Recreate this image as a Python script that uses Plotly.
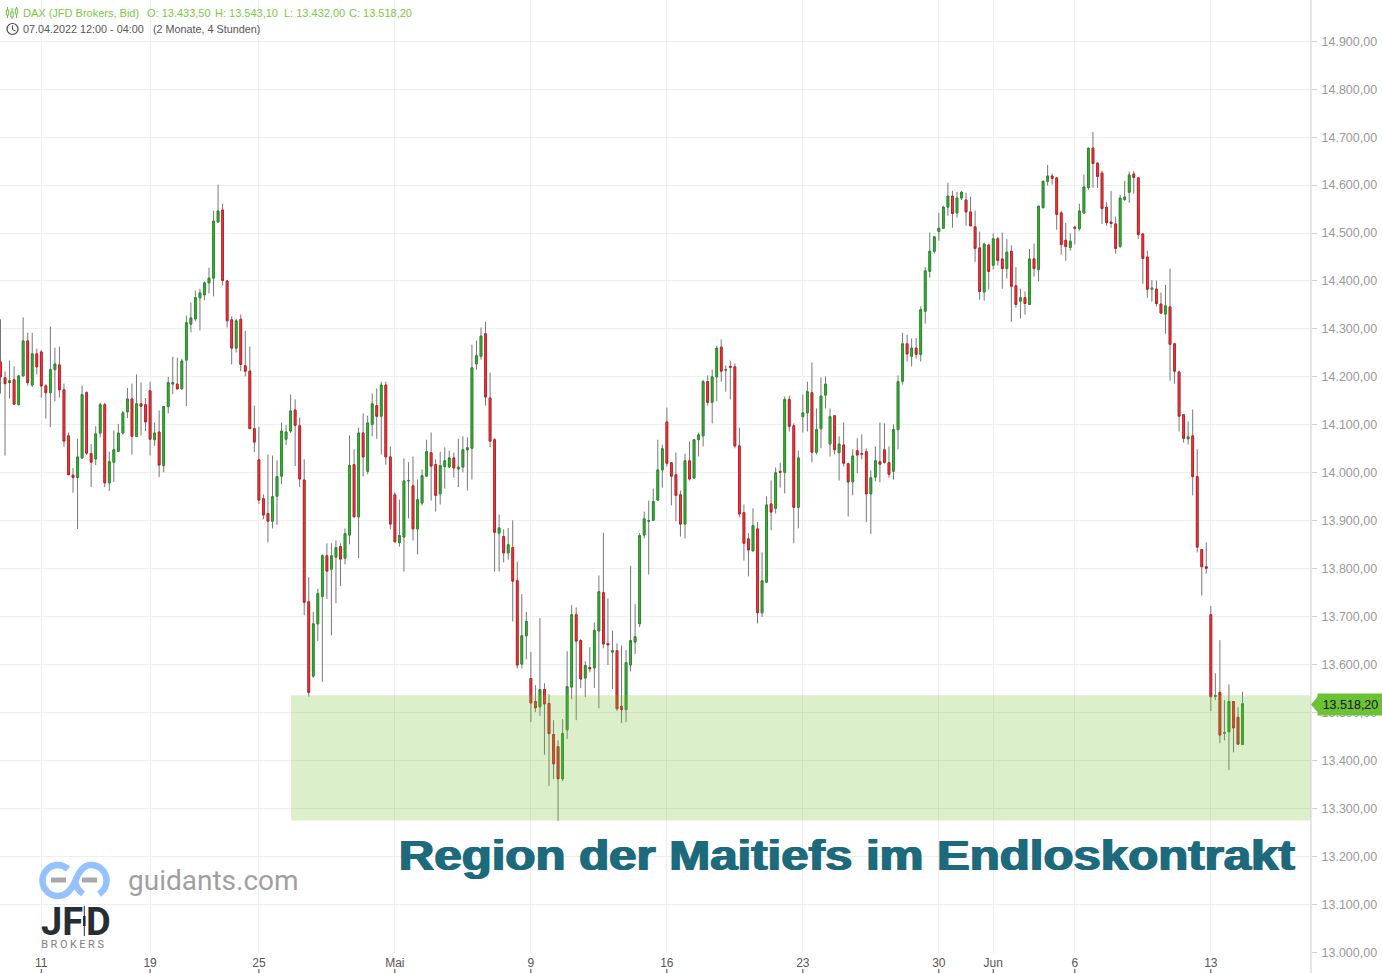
import plotly.graph_objects as go

opens = [14231,14198,14188,14194,14142,14202,14275,14183,14248,14252,
14181,14167,14215,14225,14173,14077,13995,13990,14031,14167,
14040,14029,14083,14142,13979,14022,14045,14083,14127,14154,
14076,14144,14142,14171,14069,14085,14015,14138,14185,14185,
14175,14235,14310,14321,14365,14371,14396,14406,14523,14548,
14400,14319,14260,14320,14223,14212,14092,14027,13946,13915,
13899,13951,13993,14070,14087,14131,14098,13985,13731,13576,
13685,13742,13827,13799,13824,13846,13822,13870,14017,13908,
14083,14003,14101,14140,14118,14183,14033,13954,13854,13866,
13983,13973,13883,13937,13993,14042,14017,13956,14013,14012,
14031,14008,14012,14048,14051,14227,14243,14290,14156,14069,
13874,13867,13833,13844,13775,13601,13660,13571,13523,13512,
13548,13519,13454,13429,13362,13464,13553,13704,13650,13572,
13594,13593,13670,13750,13644,13626,13629,13513,13506,13599,
13647,13685,13870,13899,13901,13943,14006,14106,14021,13996,
13954,13893,14025,13989,14069,14077,14190,14147,14200,14262,
14214,14222,14221,14056,13917,13862,13837,13883,13708,13772,
13935,13926,14003,14001,14153,14098,13928,14117,14125,14167,
14043,14092,14162,14060,14119,14042,14058,14019,13981,14046,
14040,14044,13956,13991,14023,14048,14021,14003,14090,14191,
14269,14243,14260,14247,14337,14420,14462,14503,14510,14554,
14577,14542,14573,14569,14544,14513,14469,14377,14475,14433,
14488,14446,14426,14462,14390,14358,14365,14351,14446,14424,
14553,14608,14619,14615,14542,14485,14470,14512,14509,14542,
14595,14677,14646,14625,14554,14523,14519,14472,14570,14585,
14623,14615,14498,14450,14383,14383,14352,14331,14346,14269,
14210,14121,14071,14077,13992,13840,13804,13704,13534,13542,
13457,13460,13523,13490,13433.5]
highs = [14320,14211,14234,14222,14204,14324,14292,14292,14259,14256,
14185,14305,14261,14263,14186,14084,14010,14071,14182,14170,
14060,14097,14146,14146,14044,14088,14102,14129,14177,14186,
14205,14188,14156,14190,14105,14130,14138,14200,14242,14240,
14238,14328,14355,14380,14384,14399,14428,14547,14601,14561,
14402,14326,14321,14330,14296,14263,14140,14096,13955,14038,
14036,14026,14105,14099,14163,14153,14115,14028,13782,13710,
13758,13830,13853,13853,13859,13853,13884,14078,14049,14094,
14124,14119,14165,14176,14190,14190,14055,13959,13944,14030,
14022,14034,13986,14007,14069,14084,14028,14044,14053,14046,
14042,14071,14076,14074,14267,14276,14303,14315,14209,14072,
13913,13882,13885,13901,13815,13747,13710,13626,13557,13697,
13561,13538,13484,13442,13486,13628,13724,13719,13653,13607,
13636,13688,13786,13875,13738,13671,13644,13640,13630,13806,
13726,13874,13919,13942,13967,14069,14059,14136,14021,14042,
13963,14040,14065,14069,14084,14194,14203,14215,14265,14278,
14224,14234,14228,14094,13934,13874,13926,13897,13834,13951,
13984,14011,14021,14159,14161,14103,14046,14163,14190,14230,
14134,14199,14201,14134,14119,14076,14105,14021,14049,14072,
14080,14051,14005,14055,14105,14103,14055,14101,14203,14292,
14288,14280,14281,14347,14429,14501,14494,14542,14557,14605,
14588,14586,14588,14584,14576,14547,14503,14480,14478,14499,
14492,14501,14488,14474,14429,14384,14378,14467,14478,14556,
14608,14642,14624,14617,14546,14521,14499,14515,14561,14622,
14677,14711,14646,14630,14565,14588,14534,14580,14609,14628,
14630,14617,14500,14463,14402,14401,14376,14392,14426,14271,
14213,14121,14107,14132,14049,13840,13855,13722,13582,13651,
13526,13559,13523,13511,13543.1]
lows = [14165,14036,14155,14142,14141,14201,14182,14179,14205,14157,
14113,14095,14149,14157,14054,13995,13958,13883,14029,14037,
13970,14016,14074,13970,13962,13981,14044,14080,14114,14038,
14076,14078,14087,14036,14056,13991,14001,14124,14164,14174,
14174,14139,14293,14316,14297,14360,14374,14368,14522,14391,
14303,14226,14251,14212,14201,14092,14043,13935,13903,13855,
13884,13891,13976,14058,14083,14014,13970,13703,13533,13572,
13649,13564,13737,13661,13728,13764,13809,13851,13908,13822,
13992,13997,14076,14071,14038,14017,13882,13855,13846,13794,
13905,13859,13830,13932,13993,13942,13919,13934,13967,14011,
13990,13970,14001,13963,13986,14215,14236,14140,14053,13794,
13794,13813,13819,13690,13592,13592,13611,13480,13501,13493,
13412,13347,13361,13274,13357,13445,13528,13484,13551,13532,
13584,13551,13509,13634,13599,13549,13503,13478,13480,13586,
13622,13678,13863,13788,13900,13942,13969,14013,13932,13899,
13867,13863,13984,13989,14034,14055,14140,14103,14149,14190,
14169,14153,14051,13907,13817,13784,13837,13686,13699,13770,
13880,13915,13969,13957,14086,13853,13884,14084,14086,14022,
14038,14051,14134,14034,14038,13984,14013,13909,13953,13999,
14028,13897,13872,13982,13980,14019,13990,13986,14049,14184,
14232,14222,14238,14232,14311,14407,14457,14484,14510,14536,
14511,14532,14569,14515,14515,14440,14361,14359,14382,14424,
14432,14384,14405,14315,14344,14322,14330,14351,14409,14399,
14551,14599,14601,14507,14455,14442,14463,14476,14505,14540,
14590,14594,14594,14519,14515,14511,14457,14469,14567,14563,
14582,14488,14394,14365,14357,14347,14333,14290,14192,14186,
14086,14063,14059,13953,13834,13744,13790,13503,13526,13436,
13442,13380,13417,13432,13432]
closes = [14200,14186,14192,14143,14202,14275,14188,14248,14221,14181,
14167,14215,14227,14173,14066,13996,13990,14033,14163,14041,
14022,14081,14142,13979,14023,14048,14083,14125,14154,14076,
14144,14139,14106,14070,14083,14016,14138,14188,14188,14175,
14233,14313,14323,14365,14375,14396,14406,14525,14546,14401,
14317,14260,14317,14226,14212,14092,14064,13943,13912,13899,
13950,13992,14087,14085,14129,14099,13987,13730,13542,13685,
13748,13827,13795,13827,13844,13820,13873,14015,13908,14083,
14033,14104,14144,14118,14183,14033,13893,13856,13869,13983,
13984,13883,13944,13994,14044,14014,13953,14015,14025,14031,
14010,14012,14048,14052,14219,14244,14285,14158,14066,13876,
13885,13833,13850,13774,13599,13660,13690,13520,13510,13548,
13518,13456,13393,13362,13456,13554,13704,13649,13570,13598,
13591,13671,13752,13643,13641,13629,13508,13506,13604,13650,
13658,13869,13904,13900,13940,14006,14050,14020,13993,13953,
13893,14025,13987,14069,14079,14190,14147,14200,14260,14212,
14215,14220,14056,13914,13853,13839,13890,13708,13775,13933,
13918,14000,14001,14153,14097,13928,14031,14125,14169,14043,
14090,14160,14185,14117,14048,14060,14020,13981,14035,14037,
14039,13956,13990,14025,14018,14022,13997,14090,14190,14269,
14248,14260,14247,14340,14421,14462,14492,14510,14554,14577,
14541,14573,14585,14544,14515,14468,14378,14477,14420,14488,
14443,14426,14460,14389,14351,14365,14353,14446,14426,14556,
14608,14619,14614,14539,14476,14472,14483,14510,14546,14596,
14677,14645,14618,14551,14522,14520,14468,14573,14575,14621,
14616,14497,14447,14383,14385,14353,14333,14348,14268,14212,
14118,14072,14075,13992,13845,13804,13801,13533,13535,13453,
13458,13523,13468,13434,13518.2]

tick_index = [9,33,57,87,117,147,177,207,219,237,267]
tick_labels = ["11","19","25","Mai","9","16","23","30","Jun","6","13"]
price_ticks = list(range(13000,15000,100))
zone_low, zone_high = 13275, 13536
zone_start_index = 64.1
last_price_label = "13.518,20"

n = min(len(opens),len(highs),len(lows),len(closes))
idx = list(range(n))
opens,highs,lows,closes = opens[:n],highs[:n],lows[:n],closes[:n]
top = [max(a,b) for a,b in zip(opens,closes)]
bot = [min(a,b) for a,b in zip(opens,closes)]
highs = [max(h,t) for h,t in zip(highs,top)]
lows = [min(l,b) for l,b in zip(lows,bot)]

W,H = 1382,973
PW,PH = 1311,953
def px(x): return x/PW
def py(y): return (PH-y)/PH

fig = go.Figure()
wick = dict(line=dict(color="#777777",width=1),fillcolor="#777777")
fig.add_trace(go.Candlestick(x=idx,open=opens,high=highs,low=lows,close=closes,
    increasing=wick,decreasing=wick,hoverinfo="skip",showlegend=False))
fig.add_trace(go.Candlestick(x=idx,open=opens,high=top,low=bot,close=closes,
    increasing=dict(line=dict(color="#22902a",width=1),fillcolor="#44b52e"),
    decreasing=dict(line=dict(color="#cc1b20",width=1),fillcolor="#ee4244"),
    hoverinfo="skip",showlegend=False))

shapes=[]
def sh(**k):
    shapes.append(dict(xref="paper",yref="paper",**k))
shapes.append(dict(type="rect",xref="x",yref="y",x0=zone_start_index,x1=289.1,y0=zone_low,y1=zone_high,
    fillcolor="rgba(115,191,47,0.25)",line_width=0,layer="above"))
sh(type="line",x0=1,x1=1,y0=py(973),y1=1,line=dict(color="#cfcfcf",width=1))
for t in tick_index:
    shapes.append(dict(type="line",xref="x",yref="paper",x0=t,x1=t,y0=py(973),y1=py(969),line=dict(color="#444",width=1)))
sh(type="path",path=f"M {px(1311)} {py(704.5)} L {px(1319)} {py(695)} L {px(1319)} {py(714)} Z",fillcolor="#6cc135",line_width=0)
sh(type="circle",x0=px(7),x1=px(18),y0=py(34.5),y1=py(23.5),line=dict(color="#444",width=1.2))
sh(type="path",path=f"M {px(12.5)} {py(25.5)} L {px(12.5)} {py(29.5)} L {px(15.5)} {py(31)}",line=dict(color="#444",width=1))
for cx,a,b,c,d in [(7.5,7,18,10,15),(12,8,19,12,17),(16.5,7,18,9,14)]:
    sh(type="line",x0=px(cx),x1=px(cx),y0=py(b),y1=py(a),line=dict(color="#6fbf3c",width=1))
    sh(type="rect",x0=px(cx-1.2),x1=px(cx+1.2),y0=py(d),y1=py(c),fillcolor="#ffffff",line=dict(color="#6fbf3c",width=1))
blue="#93c2ff"
P=lambda x,y: f"{px(x)} {py(y)}"
sh(type="path",path=(f"M {P(68,869)} C {P(65,866.5)} {P(61.5,865)} {P(58,865)} "
   f"C {P(49.4,865)} {P(42.5,871.9)} {P(42.5,880.5)} C {P(42.5,889.1)} {P(49.4,896)} {P(58,896)} "
   f"C {P(66,896)} {P(71,890)} {P(74.5,883)} C {P(78,873)} {P(83,865)} {P(91,865)} "
   f"C {P(99.6,865)} {P(106.5,871.9)} {P(106.5,880.5)} C {P(106.5,886)} {P(103.5,891)} {P(99,894)}"),
   line=dict(color=blue,width=6.5))
sh(type="path",path=f"M {P(75,881)} C {P(76,887)} {P(79,891)} {P(83,894)}",line=dict(color=blue,width=6.5))
sh(type="rect",x0=px(51),x1=px(66),y0=py(882.5),y1=py(877.5),fillcolor="#a8a8a8",line_width=0)
sh(type="rect",x0=px(82),x1=px(97),y0=py(882.5),y1=py(877.5),fillcolor="#a8a8a8",line_width=0)
sh(type="line",x0=px(84.3),x1=px(84.3),y0=py(936),y1=py(906),line=dict(color="#262e35",width=1))
sh(type="rect",x0=px(83),x1=px(85.6),y0=py(926),y1=py(916),fillcolor="#262e35",line_width=0)

ann=[]
def text(t,x,y,size,color,family="Liberation Sans",anchor="left",**k):
    ann.append(dict(text=t,x=px(x),y=py(y),xref="paper",yref="paper",xanchor=anchor,yanchor="middle",
        showarrow=False,font=dict(size=size,color=color,family=family,**k),borderpad=0,borderwidth=0))
G="#7ac943"
text("DAX (JFD Brokers, Bid)",23,13.5,11,G)
text("O: 13.433,50",146.5,13.5,11,G)
text("H: 13.543,10",215,13.5,11,G)
text("L: 13.432,00",283.5,13.5,11,G)
text("C: 13.518,20",349,13.5,11,G)
text("07.04.2022 12:00 - 04:00",23,29,10.8,"#555555")
text("(2 Monate, 4 Stunden)",153,29,10.8,"#555555")
text("Region der Maitiefs im Endloskontrakt",847,855,43,"#1c6a7c",anchor="center",weight="bold",
     shadow="0.9px 0 #1c6a7c, -0.9px 0 #1c6a7c")
text("guidants.com",128,880,28,"#a0a0a0",family="Roboto")
text("JF",41,921.5,38,"#262e35",family="Roboto",weight="bold")
text("D",86,921.5,38,"#262e35",family="Roboto",weight="bold")
text("BROKERS",73.5,944,11,"#808080",family="Roboto",anchor="center")
ann.append(dict(text=last_price_label,x=px(1350),y=py(704.5),xref="paper",yref="paper",xanchor="center",yanchor="middle",
    showarrow=False,width=63,height=19,bgcolor="#6cc135",font=dict(size=12.5,color="#111111",family="Liberation Sans")))

fig.update_layout(width=W,height=H,margin=dict(l=0,r=W-PW,t=0,b=H-PH,pad=0),
    paper_bgcolor="#ffffff",plot_bgcolor="#ffffff",separators=",.",
    shapes=shapes,annotations=ann,boxmode="overlay",boxgap=0.45,showlegend=False,hovermode=False,
    xaxis=dict(range=[-0.11,289.1],rangeslider=dict(visible=False),tickmode="array",tickvals=tick_index,ticktext=tick_labels,
        showgrid=True,gridcolor="#eeeeee",gridwidth=1,zeroline=False,showline=False,ticks="",ticklabelstandoff=1,
        tickfont=dict(size=12,color="#555555",family="Liberation Sans")),
    yaxis=dict(range=[12998.5,14986],side="right",tickmode="array",tickvals=price_ticks,tickformat=",.2f",
        showgrid=True,gridcolor="#eeeeee",gridwidth=1,zeroline=False,showline=False,ticks="outside",ticklen=5,tickcolor="#cfcfcf",ticklabelstandoff=2,
        tickfont=dict(size=12.5,color="#999999",family="Liberation Sans")))
post = """document.body.style.margin='0';document.body.style.overflow='hidden';
document.querySelectorAll('.annotation-text').forEach(function(t){
 if(t.textContent.indexOf('Region')===0){t.setAttribute('textLength','896');t.setAttribute('lengthAdjust','spacingAndGlyphs');}
 if(t.textContent==='BROKERS'){t.style.letterSpacing='2.5px';}
});"""
fig.write_html("out.html",post_script=post,config={"displayModeBar":False})
